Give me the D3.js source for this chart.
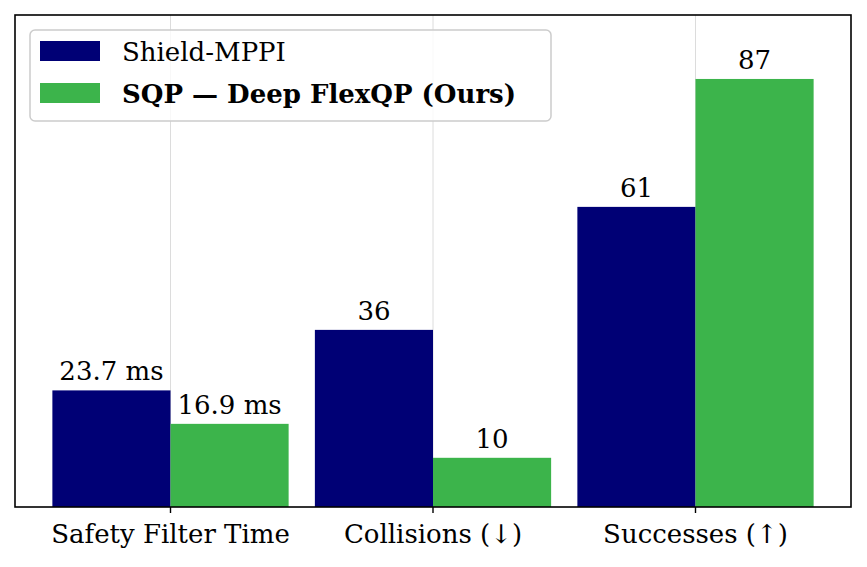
<!DOCTYPE html>
<html>
<head>
<meta charset="utf-8">
<script src="https://cdn.jsdelivr.net/npm/d3@7"></script>
<style>
  body { margin: 0; background: #fff; }
  text { font-family: "DejaVu Serif", "Liberation Serif", serif; }
</style>
</head>
<body>
<script>
// chart data
let categories = ["Safety Filter Time", "Collisions (\u2193)", "Successes (\u2191)"];
let seriesNames = ["Shield-MPPI", "SQP \u2014 Deep FlexQP (Ours)"];
let shieldValues = [23.7, 36, 61];
let flexValues = [16.9, 10, 87];
let shieldLabels = ["23.7 ms", "36", "61"];
let flexLabels = ["16.9 ms", "10", "87"];
let colors = ["#000075", "#3cb44b"];

let width = 867, height = 567;
let mLeft = 15, mRight = 851, mTop = 15, mBottom = 507;
let fontSize = "26px";

let svg = d3.select("body").append("svg")
  .attr("width", width)
  .attr("height", height);

let x = d3.scaleBand()
  .domain(categories)
  .range([mLeft, mRight])
  .paddingInner(0.1)
  .paddingOuter(0.1424);

let y = d3.scaleLinear()
  .domain([0, 100])
  .range([mBottom, mTop]);

let center = c => x(c) + x.bandwidth() / 2;
let barW = x.bandwidth() / 2;

// grid
svg.append("g").selectAll("line")
  .data(categories)
  .enter().append("line")
  .attr("x1", d => center(d))
  .attr("x2", d => center(d))
  .attr("y1", mTop)
  .attr("y2", mBottom)
  .style("stroke", "#dcdcdc")
  .style("stroke-width", 1);

let series = [shieldValues, flexValues];
let labels = [shieldLabels, flexLabels];

series.forEach(function (vals, s) {
  let g = svg.append("g");
  g.selectAll("rect")
    .data(vals)
    .enter().append("rect")
    .attr("x", (d, i) => x(categories[i]) + s * barW)
    .attr("y", d => y(d))
    .attr("width", barW)
    .attr("height", d => mBottom - y(d))
    .style("fill", colors[s]);
  g.selectAll("text")
    .data(vals)
    .enter().append("text")
    .attr("x", (d, i) => x(categories[i]) + barW / 2 + s * barW)
    .attr("y", d => y(d) - 10)
    .attr("text-anchor", "middle")
    .style("font-size", fontSize)
    .text((d, i) => labels[s][i]);
});

// frame
svg.append("rect")
  .attr("x", mLeft)
  .attr("y", mTop)
  .attr("width", mRight - mLeft)
  .attr("height", mBottom - mTop)
  .style("fill", "none")
  .style("stroke", "#000")
  .style("stroke-width", 1.6);

// x axis
let xAxis = d3.axisBottom(x).tickSize(6).tickPadding(12);
let ax = svg.append("g")
  .attr("transform", "translate(0," + mBottom + ")")
  .call(xAxis);
ax.select(".domain").remove();
ax.selectAll(".tick line").style("stroke", "#000").style("stroke-width", 1.4);
ax.selectAll(".tick text")
  .style("font-family", "'DejaVu Serif', serif")
  .style("font-size", fontSize)
  .style("fill", "#000");

// legend
let lg = svg.append("g");
lg.append("rect")
  .attr("x", 30).attr("y", 30)
  .attr("width", 521).attr("height", 91)
  .attr("rx", 5)
  .style("fill", "rgba(255,255,255,0.8)")
  .style("stroke", "#cccccc")
  .style("stroke-width", 1.5);
seriesNames.forEach(function (n, i) {
  lg.append("rect")
    .attr("x", 40).attr("y", 41 + i * 42)
    .attr("width", 60).attr("height", 20)
    .style("fill", colors[i]);
  lg.append("text")
    .attr("x", 122).attr("y", 61 + i * 42)
    .style("font-size", fontSize)
    .style("font-weight", i == 1 ? "bold" : "normal")
    .text(n);
});
</script>
</body>
</html>
